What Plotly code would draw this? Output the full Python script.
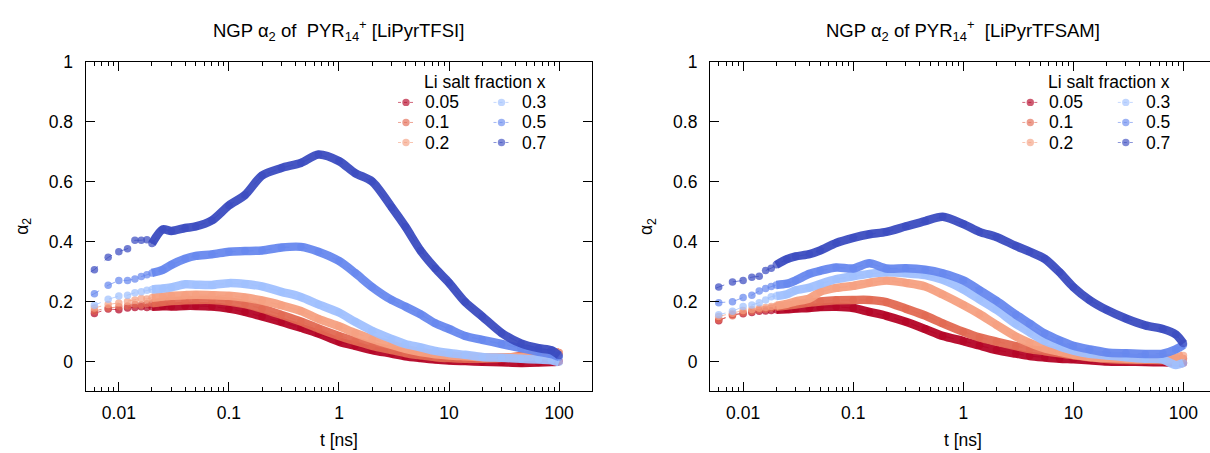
import plotly.graph_objects as go

# ---- data -----------------------------------------------------------------
# lag times (ns)
t_ns = [0.004, 0.006, 0.008, 0.010, 0.012, 0.014, 0.016, 0.018, 0.020, 0.025,
        0.03, 0.04, 0.05, 0.07, 0.1, 0.14, 0.2, 0.3, 0.45, 0.65,
        1.0, 1.4, 2, 3, 4, 5.5, 7.5, 10, 14, 20,
        30, 45, 65, 85, 100]

fractions = ["0.05", "0.1", "0.2", "0.3", "0.5", "0.7"]
colors = ["#b40426", "#e26952", "#f5a081", "#a0c0fe", "#6788ee", "#3b4cc0"]

# non-Gaussian parameter alpha_2 of PYR14+ in LiPyrTFSI
tfsi_005 = [0.150, 0.160, 0.175, 0.172, 0.178, 0.180, 0.182, 0.180, 0.182, 0.184,
            0.183, 0.185, 0.185, 0.183, 0.176, 0.165, 0.150, 0.132, 0.112, 0.093,
            0.066, 0.052, 0.038, 0.026, 0.017, 0.011, 0.006, 0.003, 0.001, -0.001,
            -0.003, -0.005, -0.004, -0.002, 0.000]
tfsi_01 = [0.155, 0.168, 0.178, 0.182, 0.185, 0.190, 0.188, 0.192, 0.194, 0.198,
           0.201, 0.204, 0.205, 0.205, 0.200, 0.191, 0.176, 0.155, 0.133, 0.110,
           0.085, 0.068, 0.052, 0.038, 0.028, 0.020, 0.014, 0.011, 0.009, 0.009,
           0.011, 0.018, 0.024, 0.028, 0.030]
tfsi_02 = [0.162, 0.178, 0.190, 0.195, 0.200, 0.205, 0.210, 0.208, 0.212, 0.216,
           0.219, 0.221, 0.222, 0.221, 0.219, 0.213, 0.203, 0.187, 0.168, 0.142,
           0.117, 0.095, 0.075, 0.055, 0.042, 0.031, 0.024, 0.020, 0.017, 0.014,
           0.014, 0.015, 0.019, 0.024, 0.027]
tfsi_03 = [0.170, 0.187, 0.207, 0.218, 0.221, 0.229, 0.232, 0.237, 0.240, 0.243,
           0.247, 0.257, 0.256, 0.255, 0.261, 0.258, 0.250, 0.232, 0.215, 0.190,
           0.163, 0.132, 0.102, 0.075, 0.058, 0.047, 0.035, 0.028, 0.022, 0.015,
           0.012, 0.009, 0.006, 0.004, -0.003]
tfsi_05 = [0.195, 0.226, 0.254, 0.270, 0.270, 0.275, 0.283, 0.289, 0.295, 0.305,
           0.322, 0.342, 0.352, 0.357, 0.366, 0.368, 0.370, 0.380, 0.382, 0.366,
           0.335, 0.295, 0.248, 0.205, 0.183, 0.157, 0.127, 0.108, 0.085, 0.072,
           0.058, 0.044, 0.032, 0.024, 0.015]
tfsi_07 = [0.270, 0.306, 0.347, 0.366, 0.376, 0.404, 0.404, 0.406, 0.393, 0.440,
           0.435, 0.445, 0.450, 0.470, 0.520, 0.555, 0.620, 0.645, 0.662, 0.690,
           0.668, 0.628, 0.600, 0.515, 0.450, 0.370, 0.310, 0.262, 0.198, 0.150,
           0.095, 0.060, 0.044, 0.037, 0.020]

# non-Gaussian parameter alpha_2 of PYR14+ in LiPyrTFSAM
tfsam_005 = [0.125, 0.136, 0.156, 0.159, 0.163, 0.167, 0.168, 0.170, 0.172, 0.174,
             0.176, 0.178, 0.181, 0.182, 0.178, 0.165, 0.152, 0.132, 0.108, 0.085,
             0.068, 0.053, 0.038, 0.026, 0.018, 0.013, 0.009, 0.007, 0.004, 0.000,
             -0.001, -0.002, -0.003, -0.004, -0.005]
tfsam_01 = [0.128, 0.139, 0.152, 0.162, 0.167, 0.172, 0.174, 0.178, 0.182, 0.186,
            0.190, 0.196, 0.200, 0.204, 0.205, 0.205, 0.198, 0.176, 0.153, 0.127,
            0.099, 0.080, 0.066, 0.051, 0.041, 0.034, 0.027, 0.020, 0.014, 0.008,
            0.005, 0.005, 0.004, 0.005, 0.010]
tfsam_02 = [0.140, 0.150, 0.161, 0.170, 0.173, 0.177, 0.180, 0.183, 0.186, 0.192,
            0.200, 0.210, 0.232, 0.245, 0.252, 0.262, 0.270, 0.262, 0.250, 0.223,
            0.188, 0.158, 0.122, 0.083, 0.062, 0.043, 0.032, 0.022, 0.015, 0.011,
            0.009, 0.007, 0.009, 0.012, 0.020]
tfsam_03 = [0.140, 0.156, 0.167, 0.183, 0.188, 0.196, 0.205, 0.216, 0.218, 0.224,
            0.237, 0.246, 0.258, 0.274, 0.284, 0.292, 0.297, 0.294, 0.288, 0.272,
            0.240, 0.207, 0.172, 0.125, 0.097, 0.068, 0.050, 0.036, 0.025, 0.020,
            0.014, 0.009, 0.006, -0.012, -0.005]
tfsam_05 = [0.175, 0.196, 0.199, 0.213, 0.221, 0.235, 0.243, 0.250, 0.255, 0.259,
            0.270, 0.292, 0.302, 0.313, 0.310, 0.327, 0.310, 0.311, 0.306, 0.294,
            0.270, 0.238, 0.202, 0.156, 0.126, 0.093, 0.070, 0.052, 0.040, 0.030,
            0.027, 0.025, 0.026, 0.040, 0.055]
tfsam_07 = [0.220, 0.248, 0.265, 0.270, 0.281, 0.284, 0.303, 0.311, 0.322, 0.341,
            0.350, 0.358, 0.370, 0.395, 0.412, 0.424, 0.432, 0.450, 0.468, 0.482,
            0.458, 0.432, 0.415, 0.385, 0.366, 0.342, 0.297, 0.248, 0.205, 0.172,
            0.143, 0.120, 0.108, 0.090, 0.060]

panels = [
    dict(title="NGP α<sub>2</sub> of \u00a0PYR<sub>14</sub><sup>+</sup> [LiPyrTFSI]",
         series=[tfsi_005, tfsi_01, tfsi_02, tfsi_03, tfsi_05, tfsi_07]),
    dict(title="NGP α<sub>2</sub> of PYR<sub>14</sub><sup>+</sup> \u00a0[LiPyrTFSAM]",
         series=[tfsam_005, tfsam_01, tfsam_02, tfsam_03, tfsam_05, tfsam_07]),
]

# ---- layout geometry (pixels) ---------------------------------------------
W, H = 1210, 453
FONT = "Liberation Sans, Arial, sans-serif"
plot_top, plot_bottom = 52.7, 390.0
panel_left = [85.7, 710.0]
panel_right = [592.3, 1210.0]
px_per_decade = 110.08
log_min = -2.301


def fx(px):
    return px / W


def fy(py):
    return 1 - py / H


def rgba(hex_color, a):
    h = hex_color.lstrip("#")
    r, g, b = int(h[0:2], 16), int(h[2:4], 16), int(h[4:6], 16)
    return f"rgba({r},{g},{b},{a})"


fig = go.Figure()

band_start = t_ns.index(0.020)

for p, panel in enumerate(panels):
    xa = "x" if p == 0 else "x2"
    ya = "y" if p == 0 else "y2"
    for frac, col, vals in zip(fractions, colors, panel["series"]):
        # densely sampled part: drawn as a thick smoothed band
        fig.add_trace(go.Scatter(
            x=t_ns[band_start:], y=vals[band_start:], mode="lines",
            line=dict(color=rgba(col, 0.95), width=8.5,
                      shape="spline", smoothing=0.8),
            xaxis=xa, yaxis=ya, showlegend=False, hoverinfo="skip"))
        # individual samples with thin dashed connector
        fig.add_trace(go.Scatter(
            x=t_ns, y=vals, mode="lines+markers", name=frac,
            line=dict(color=rgba(col, 0.7), width=1, dash="dash"),
            marker=dict(size=7.5, color=rgba(col, 0.72), line=dict(width=0)),
            xaxis=xa, yaxis=ya, showlegend=False))

minor_vals = [m * 10 ** e for e in range(-3, 3) for m in range(2, 10)]

axis_common = dict(
    showline=True, linecolor="#000000", linewidth=1.2,
    ticks="inside", ticklen=9, tickwidth=1, tickcolor="#000000",
    showgrid=False, zeroline=False,
    tickfont=dict(family=FONT, size=17.5, color="#000000"),
)

for p in range(2):
    x_hi = log_min + (panel_right[p] - panel_left[p]) / px_per_decade
    xaxis = dict(
        type="log", range=[log_min, x_hi],
        domain=[fx(panel_left[p]), fx(panel_right[p])],
        tickvals=[0.01, 0.1, 1, 10, 100],
        ticktext=["0.01", "0.1", "1", "10", "100"],
        mirror="ticks", ticklabelstandoff=6,
        minor=dict(tickvals=minor_vals, ticks="inside", ticklen=4.5,
                   tickwidth=1, tickcolor="#000000", showgrid=False),
        anchor="y" if p == 0 else "y2",
        **axis_common)
    yaxis = dict(
        range=[-0.1, 1], domain=[fy(plot_bottom), fy(plot_top)],
        tickvals=[0, 0.2, 0.4, 0.6, 0.8, 1],
        ticktext=["0", "0.2", "0.4", "0.6", "0.8", "1"],
        mirror="ticks" if p == 0 else False, ticklabelstandoff=8,
        anchor="x" if p == 0 else "x2",
        **axis_common)
    if p == 0:
        fig.update_layout(xaxis=xaxis, yaxis=yaxis)
    else:
        fig.update_layout(xaxis2=xaxis, yaxis2=yaxis)

annotations = []
shapes = []
for p, panel in enumerate(panels):
    cx = (panel_left[p] + min(panel_left[p] + 4.602 * px_per_decade, 1217)) / 2
    annotations.append(dict(
        text=panel["title"], x=fx(cx), y=fy(21), xref="paper", yref="paper",
        xanchor="center", yanchor="middle", showarrow=False,
        font=dict(family=FONT, size=18.5, color="#000000")))
    annotations.append(dict(
        text="t [ns]", x=fx(cx), y=fy(440), xref="paper", yref="paper",
        xanchor="center", yanchor="middle", showarrow=False,
        font=dict(family=FONT, size=17.5, color="#000000")))
    annotations.append(dict(
        text="α<sub>2</sub>", x=fx(panel_left[p] - 63), y=fy(221),
        xref="paper", yref="paper", xanchor="center", yanchor="middle",
        textangle=-90, showarrow=False,
        font=dict(family=FONT, size=17.5, color="#000000")))

    # key: title plus two columns of sample markers
    off = panel_left[p] - panel_left[0]
    annotations.append(dict(
        text="Li salt fraction x", x=fx(422 + off), y=fy(74),
        xref="paper", yref="paper", xanchor="left", yanchor="middle",
        showarrow=False, font=dict(family=FONT, size=17.5, color="#000000")))
    for i, (frac, col) in enumerate(zip(fractions, colors)):
        mx = (406 if i < 3 else 501.5) + off
        tx = (423 if i < 3 else 519.5) + off
        ry = [94.5, 115, 135.5][i % 3]
        shapes.append(dict(
            type="line", xref="paper", yref="paper",
            x0=fx(mx - 8), x1=fx(mx + 8), y0=fy(ry), y1=fy(ry),
            line=dict(color=rgba(col, 0.6), width=1, dash="dot")))
        shapes.append(dict(
            type="circle", xref="paper", yref="paper",
            xsizemode="pixel", ysizemode="pixel",
            xanchor=fx(mx), yanchor=fy(ry), x0=-3.7, x1=3.7, y0=-3.7, y1=3.7,
            fillcolor=rgba(col, 0.65), line=dict(width=0)))
        annotations.append(dict(
            text=frac, x=fx(tx), y=fy(ry), xref="paper", yref="paper",
            xanchor="left", yanchor="middle", showarrow=False,
            font=dict(family=FONT, size=17.5, color="#000000")))

fig.update_layout(
    width=W, height=H, autosize=False,
    margin=dict(l=0, r=0, t=0, b=0),
    paper_bgcolor="white", plot_bgcolor="white",
    font=dict(family=FONT, size=17.5, color="#000000"),
    annotations=annotations, shapes=shapes, showlegend=False,
)

fig.write_html("out.html")
